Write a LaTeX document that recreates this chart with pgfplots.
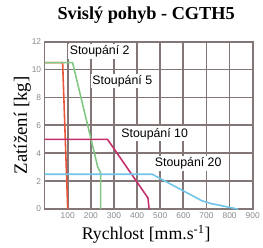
\documentclass[border=0pt]{standalone}
\usepackage{fontspec}
\setmainfont{Liberation Serif}
\newfontfamily\arial{Liberation Sans}
\usepackage{pgfplots}
\pgfplotsset{compat=1.18}
\definecolor{gridc}{HTML}{827676}
\definecolor{cred}{HTML}{E8553A}
\definecolor{cgreen}{HTML}{82C882}
\definecolor{cmag}{HTML}{C4306C}
\definecolor{cblue}{HTML}{70C4EA}
\definecolor{tickc}{HTML}{8A8A8A}
\begin{document}
\begin{tikzpicture}
\begin{axis}[
  scale only axis, width=210bp, height=169bp,
  xmin=0, xmax=900, ymin=0, ymax=12,
  xtick={100,200,...,900}, ytick={0,2,...,12},
  grid=major,
  major grid style={color=gridc, line width=1.8bp},
  axis line style={color=gridc, line width=1.8bp},
  tick style={draw=none},
  /pgf/number format/assume math mode=true,
  ticklabel style={font=\arial\fontsize{8.5}{9}\selectfont, text=tickc},
  clip=false,
  title={\fontsize{18.5}{20}\selectfont\bfseries Svislý pohyb - CGTH5},
  title style={at={(axis description cs:0.488,1)}, anchor=base, yshift=16bp},
  xlabel={\fontsize{18}{20}\selectfont Rychlost [mm.s\textsuperscript{-1}]},
  xlabel style={at={(axis description cs:0.488,0)}, anchor=base, yshift=-30.7bp},
  ylabel={\fontsize{19}{21}\selectfont Zatížení [kg]},
  ylabel style={at={(axis description cs:0,0.5)}, anchor=base, yshift=18bp},
]
\addplot[cred, line width=1.6bp] coordinates {(0,10.5) (78,10.5) (100,0)};
\addplot[cgreen, line width=1.6bp] coordinates {(0,10.5) (121,10.5) (230,3.0) (242,2.6) (242,0)};
\addplot[cmag, line width=1.6bp] coordinates {(0,5) (272,5) (447,0.8) (452,0)};
\addplot[cblue, line width=1.6bp] coordinates {(0,2.5) (465,2.5) (680,0.6) (720,0.4) (836,0)};
\node[fill=white, inner sep=1.5bp, font=\arial\fontsize{12.5}{14}\selectfont] at (axis cs:238,11.31) {Stoupání 2};
\node[fill=white, inner sep=1.5bp, font=\arial\fontsize{12.5}{14}\selectfont] at (axis cs:336,9.18) {Stoupání 5};
\node[fill=white, inner sep=1.5bp, font=\arial\fontsize{12.5}{14}\selectfont] at (axis cs:476,5.4) {Stoupání 10};
\node[fill=white, inner sep=1.5bp, font=\arial\fontsize{12.5}{14}\selectfont] at (axis cs:621,3.27) {Stoupání 20};
\path (rel axis cs:0,0) ++(-45bp,-39bp) coordinate (bbA);
\path (rel axis cs:1,1) ++(8bp,42bp) coordinate (bbB);
\path (bbA) rectangle (bbB);
\end{axis}
\end{tikzpicture}
\end{document}
